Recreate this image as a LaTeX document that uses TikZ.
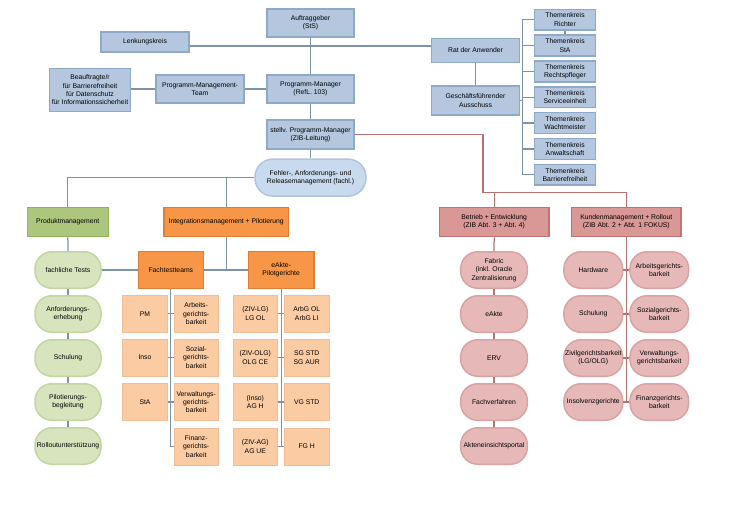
\documentclass[tikz,border=0pt]{standalone}
\usepackage{fontspec}
\setmainfont{Liberation Sans}
\definecolor{bfill}{HTML}{B4C7DF}
\definecolor{bdraw}{HTML}{8FA9C9}
\definecolor{lblue}{HTML}{7C93A8}
\definecolor{ffill}{HTML}{C9DAEE}
\definecolor{fdraw}{HTML}{AFC5DF}
\definecolor{gfill}{HTML}{ADC67E}
\definecolor{gdraw}{HTML}{93B25D}
\definecolor{gpfill}{HTML}{D8E4BE}
\definecolor{gpdraw}{HTML}{C3D5A0}
\definecolor{ofill}{HTML}{F79646}
\definecolor{odraw}{HTML}{E07E35}
\definecolor{pfill}{HTML}{FBCBA3}
\definecolor{pdraw}{HTML}{F1BD96}
\definecolor{rfill}{HTML}{D99795}
\definecolor{rdraw}{HTML}{C07370}
\definecolor{rpfill}{HTML}{E6B9B8}
\definecolor{rpdraw}{HTML}{D8A3A2}
\definecolor{lred}{HTML}{B9716F}
\tikzset{
  base/.style={draw, line width=1.5pt, align=center, inner sep=0pt,
    font=\fontsize{6.8}{8.3}\selectfont},
  bbox/.style={base, fill=bfill, draw=bdraw, minimum width=87pt, minimum height=28pt},
  tkbox/.style={base, fill=bfill, draw=bdraw, minimum width=61pt, minimum height=20.8pt},
  pillshape/.style={base, rounded corners=17pt, minimum height=36.5pt},
  gpill/.style={pillshape, fill=gpfill, draw=gpdraw, minimum width=66pt},
  rpill/.style={pillshape, fill=rpfill, draw=rpdraw, minimum width=66.6pt},
  kpill/.style={pillshape, fill=rpfill, draw=rpdraw, minimum width=58.7pt},
  obox/.style={base, fill=ofill, draw=odraw, minimum height=36.6pt},
  subbox/.style={base, fill=pfill, draw=pdraw, line width=0.8pt, minimum width=44.5pt, minimum height=37pt},
  rbox/.style={base, fill=rfill, draw=rdraw, minimum width=109.5pt, minimum height=29.4pt},
  conn/.style={draw=lblue, line width=1.25pt},
  rconn/.style={draw=lred, line width=1.25pt},
}
\begin{document}
\begin{tikzpicture}[x=1pt,y=-1pt]
\useasboundingbox (0,0) rectangle (736,523);
% top blue boxes
\node[bbox] (auf) at (310.5,23) {Auftraggeber\\(StS)};
\node[bbox, minimum width=88pt, minimum height=20pt] (lenk) at (145,42) {Lenkungskreis};
\node[bbox, minimum width=81pt, minimum height=43pt] (beauf) at (90,90) {Beauftragte/r\\für Barrierefreiheit\\für Datenschutz\\für Informationssicherheit};
\node[bbox, minimum width=88pt] (pmt) at (200,89) {Programm-Management-\\Team};
\node[bbox] (pm) at (310.5,89) {Programm-Manager\\(RefL. 103)};
\node[bbox, minimum height=29pt] (stellv) at (310.5,134.5) {stellv. Programm-Manager\\(ZIB-Leitung)};
\node[bbox, minimum width=87.6pt, minimum height=24.4pt] (rat) at (475.5,50.5) {Rat der Anwender};
\node[bbox, minimum width=87.6pt, minimum height=29pt] (gfa) at (475.5,100.5) {Geschäftsführender\\Ausschuss};
\foreach \i/\t in {1/Richter,2/StA,3/Rechtspfleger,4/Serviceeinheit,5/Wachtmeister,6/Anwaltschaft,7/Barrierefreiheit}{
  \node[tkbox] (tk\i) at (565,{19.7+25.85*(\i-1)}) {Themenkreis\\\t};
}
\coordinate (tx) at (522.7,0);
% connectors top
\draw[conn] (auf) -- (pm);
\draw[conn] (pm) -- (stellv);
\draw[conn] ([yshift=-4pt]lenk.east) -- ([yshift=-4pt]lenk.east -| rat.west);
\draw[conn] (beauf.east |- pmt.west) -- (pmt.west);
\draw[conn] (pmt) -- (pm);
\draw[conn] (rat) -- (gfa);
\draw[conn] (gfa.east) -- (gfa.east -| tx);
\draw[conn] (tk1.west) -- (tk1.west -| tx) -- (tk7.west -| tx) -- (tk7.west);
\foreach \i in {2,...,6}{\draw[conn] (tk\i.west) -- (tk\i.west -| tx);}
\draw[conn] (tk1.south) -- (tk2.north);
% Fehler
\node[base, rounded corners=18pt, fill=ffill, draw=fdraw, minimum width=111pt, minimum height=37pt] (feh) at (310.5,177.6) {Fehler-, Anforderungs- und\\Releasemanagement (fachl.)};
\draw[conn] (stellv) -- (feh);
% left branch
\node[base, fill=gfill, draw=gdraw, minimum width=81pt, minimum height=29pt] (prod) at (67.8,222) {Produktmanagement};
\node[base, fill=ofill, draw=odraw, minimum width=124.3pt, minimum height=29pt] (integ) at (226.2,222) {Integrationsmanagement + Pilotierung};
\draw[conn] (feh.west) -| (prod.north);
\draw[conn] (integ.north) -- (integ.north |- feh.west);
% green pills
\node[gpill] (g1) at (68,270) {fachliche Tests};
\node[gpill] (g2) at (68,314) {Anforderungs-\\erhebung};
\node[gpill] (g3) at (68,358) {Schulung};
\node[gpill] (g4) at (68,402) {Pilotierungs-\\begleitung};
\node[gpill] (g5) at (68,446) {Rolloutunterstützung};
\draw[conn] (prod) -- (g1);
\draw[conn] (g1) -- (g2);
\draw[conn] (g2) -- (g3);
\draw[conn] (g3) -- (g4);
\draw[conn] (g4) -- (g5);
% orange
\node[obox, minimum width=65pt] (fts) at (170.8,270) {Fachtestteams};
\node[obox, minimum width=65.7pt] (eak) at (281.2,270) {eAkte-\\Pilotgerichte};
\draw[conn] (g1) -- (fts);
\draw[conn] (fts) -- (eak);
\draw[conn] (integ.south) -- (integ.south |- fts.east);
% Fachtestteams sub
\node[subbox] (f1l) at (145,313.7) {PM};
\node[subbox] (f1r) at (196.2,313.7) {Arbeits-\\gerichts-\\barkeit};
\node[subbox] (f2l) at (145,357.5) {Inso};
\node[subbox] (f2r) at (196.2,357.5) {Sozial-\\gerichts-\\barkeit};
\node[subbox] (f3l) at (145,402) {StA};
\node[subbox] (f3r) at (196.2,402) {Verwaltungs-\\gerichts-\\barkeit};
\node[subbox] (f4r) at (196.2,446.5) {Finanz-\\gerichts-\\barkeit};
\draw[conn] (fts.south) |- (f4r.west);
\foreach \i in {1,2,3}{\draw[conn] (f\i l.east) -- (f\i r.west);}
% eAkte sub
\node[subbox] (e1l) at (255.3,313.7) {(ZIV-LG)\\LG OL};
\node[subbox] (e1r) at (306.7,313.7) {ArbG OL\\ArbG LI};
\node[subbox] (e2l) at (255.3,357.5) {(ZIV-OLG)\\OLG CE};
\node[subbox] (e2r) at (306.7,357.5) {SG STD\\SG AUR};
\node[subbox] (e3l) at (255.3,402) {(Inso)\\AG H};
\node[subbox] (e3r) at (306.7,402) {VG STD};
\node[subbox] (e4l) at (255.3,446.5) {(ZIV-AG)\\AG UE};
\node[subbox] (e4r) at (306.7,446.5) {FG H};
\draw[conn] (eak.south) -- (eak.south |- e4l.east);
\foreach \i in {1,2,3,4}{\draw[conn] (e\i l.east) -- (e\i r.west);}
% right branch
\node[rbox] (bet) at (494.2,222) {Betrieb + Entwicklung\\(ZIB Abt. 3 + Abt. 4)};
\node[rbox] (kun) at (626.3,222) {Kundenmanagement + Rollout\\(ZIB Abt. 2 + Abt. 1 FOKUS)};
\coordinate (rj) at (483,192.5);
\draw[rconn] (stellv.east) -| (rj) -| (kun.north);
\draw[rconn] (bet.north) -- (bet.north |- rj);
\node[rpill] (b1) at (494,270) {Fabric\\(inkl. Oracle\\Zentralisierung};
\node[rpill] (b2) at (494,314) {eAkte};
\node[rpill] (b3) at (494,358) {ERV};
\node[rpill] (b4) at (494,402) {Fachverfahren};
\node[rpill] (b5) at (494,446) {Akteneinsichtsportal};
\draw[rconn] (bet) -- (b1);
\draw[rconn] (b1) -- (b2);
\draw[rconn] (b2) -- (b3);
\draw[rconn] (b3) -- (b4);
\draw[rconn] (b4) -- (b5);
\node[kpill] (k1l) at (593.3,270) {Hardware};
\node[kpill] (k1r) at (659.3,270) {Arbeitsgerichts-\\barkeit};
\node[kpill] (k2l) at (593.3,314) {Schulung};
\node[kpill] (k2r) at (659.3,314) {Sozialgerichts-\\barkeit};
\node[kpill] (k3l) at (593.3,358) {Zivilgerichtsbarkeit\\(LG/OLG)};
\node[kpill] (k3r) at (659.3,358) {Verwaltungs-\\gerichtsbarkeit};
\node[kpill] (k4l) at (593.3,402) {Insolvenzgerichte};
\node[kpill] (k4r) at (659.3,402) {Finanzgerichts-\\barkeit};
\draw[rconn] (kun.south) -- (kun.south |- k4l.east);
\foreach \i in {1,2,3,4}{\draw[rconn] (k\i l.east) -- (k\i r.west);}
\end{tikzpicture}
\end{document}
